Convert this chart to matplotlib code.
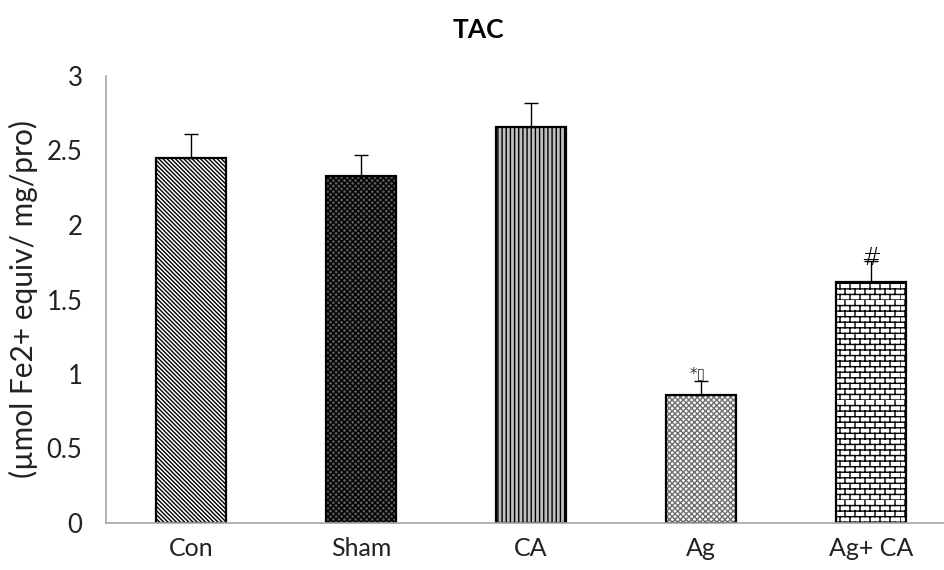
import numpy as np
import matplotlib
matplotlib.use('Agg')
import matplotlib.pyplot as plt
import matplotlib.hatch as mhatch
from matplotlib.path import Path
import warnings

warnings.filterwarnings('ignore')

# data
groups = ['Con', 'Sham', 'CA', 'Ag', 'Ag+ CA']
tac = [2.45, 2.33, 2.66, 0.86, 1.62]
tac_err = [0.16, 0.14, 0.16, 0.09, 0.14]
marks = ['', '', '', '*\u25af', '#']


# brick pattern for the last bar (matplotlib has no brick hatch)
class BrickHatch(mhatch.HatchPatternBase):
    rows = 18
    cols = 10

    def __init__(self, hatch, density):
        self.on = 'b' in hatch
        if self.on:
            self.num_vertices = self.rows * 2 + self.rows * self.cols * 2
        else:
            self.num_vertices = 0

    def set_vertices_and_codes(self, vertices, codes):
        k = 0
        for i in range(self.rows):
            y = i / self.rows
            vertices[k] = (0.0, y)
            vertices[k + 1] = (1.0, y)
            codes[k] = Path.MOVETO
            codes[k + 1] = Path.LINETO
            k += 2
        for i in range(self.rows):
            y0 = i / self.rows
            y1 = (i + 1) / self.rows
            off = 0.5 * (i % 2)
            for j in range(self.cols):
                x = (j + off) / self.cols
                vertices[k] = (x, y0)
                vertices[k + 1] = (x, y1)
                codes[k] = Path.MOVETO
                codes[k + 1] = Path.LINETO
                k += 2


mhatch._hatch_types.append(BrickHatch)

plt.rcParams['font.family'] = ['Lato', 'DejaVu Sans']
plt.rcParams['hatch.linewidth'] = 1.0

faces = ['white', '#5a5a5a', '#c0c0c0', 'white', 'white']
hatches = ['\\' * 8, 'x' * 6, '||||', 'x' * 6, 'b']
hatch_colors = ['black', 'black', 'black', '#6e6e6e', 'black']

fig = plt.figure(figsize=(9.44, 5.70), dpi=100)
ax = fig.add_axes([106 / 944, 47 / 570, 850 / 944, 447 / 570])

x = np.arange(len(groups))
# hatched fill (hatch takes the edge colour), then a black outline on top
fills = ax.bar(x, tac, width=0.41, color=faces, edgecolor=hatch_colors,
               linewidth=0, zorder=2)
for b, h in zip(fills, hatches):
    b.set_hatch(h)
ax.bar(x, tac, width=0.41, facecolor='none', edgecolor='black',
       linewidth=1.6, zorder=2.5)

ax.errorbar(x, tac, yerr=[np.zeros(len(tac)), tac_err], fmt='none',
            ecolor='black', elinewidth=1.0, capsize=4.8, capthick=1.0, zorder=3)

for xi, v, e, m in zip(x, tac, tac_err, marks):
    if m == '#':
        ax.text(xi, v + e + 0.02, m, ha='center', va='center', fontsize=17,
                family=['DejaVu Sans'], fontweight='light', zorder=4)
    elif m:
        ax.text(xi - 0.02, v + e + 0.05, m, ha='center', va='center', fontsize=11,
                family=['DejaVu Sans'], color='#333333', zorder=4)

ax.set_xlim(-0.5, 4.5)
ax.set_ylim(0, 3)
ax.set_yticks([0, 0.5, 1, 1.5, 2, 2.5, 3])
ax.set_yticklabels(['0', '0.5', '1', '1.5', '2', '2.5', '3'])
ax.set_xticks(x)
ax.set_xticklabels(groups)
ax.tick_params(axis='both', length=0, colors='#222222')
ax.tick_params(axis='x', pad=10, labelsize=18)
ax.tick_params(axis='y', pad=17, labelsize=18.5)

for s in ['top', 'right']:
    ax.spines[s].set_visible(False)
for s in ['left', 'bottom']:
    ax.spines[s].set_color('#a6a6a6')
    ax.spines[s].set_linewidth(1.2)

ax.set_ylabel('(\u00b5mol Fe2+ equiv/ mg/pro)', fontsize=21.5, color='#222222')
ax.yaxis.set_label_coords(-0.08, 0.5)

fig.text(478 / 944, 1 - 30 / 570, 'TAC', ha='center', va='center',
         fontsize=19, fontweight='bold')

fig.savefig('out.png', dpi=100)
